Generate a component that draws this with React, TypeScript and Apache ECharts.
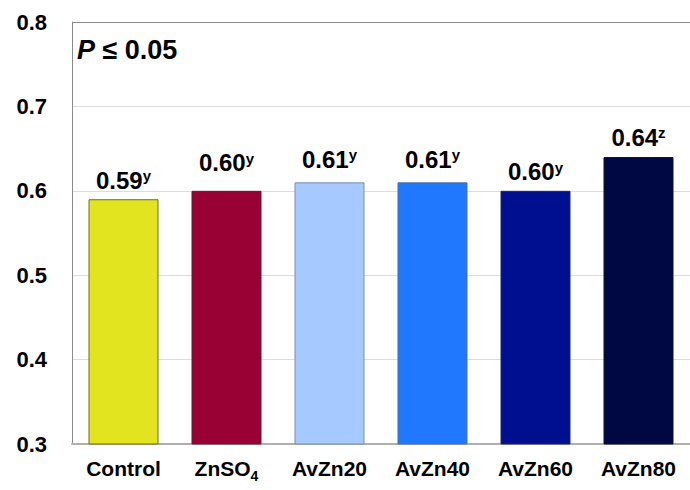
import React, { useEffect, useRef } from "react";
import * as echarts from "echarts";

const categories = ["Control", "ZnSO4", "AvZn20", "AvZn40", "AvZn60", "AvZn80"];
const values = [0.59, 0.6, 0.61, 0.61, 0.6, 0.64];
const letters = ["y", "y", "y", "y", "y", "z"];
const barColors = ["#E2E41F", "#990033", "#A6C9FF", "#1F78FF", "#000F8F", "#000843"];
const borderColors = ["#6E6E1A", "#5A2030", "#7890B0", "#4A6E9E", "#20285A", "#101030"];
const labelDistances = [7, 16, 11, 11, 7, 8];
const yTicks = [0.3, 0.4, 0.5, 0.6, 0.7, 0.8];

const FONT = "'Liberation Sans', Arial, sans-serif";

export default function App() {
  const ref = useRef<HTMLDivElement>(null);
  useEffect(() => {
    if (!ref.current) return;
    const chart = echarts.init(ref.current, null, { renderer: "svg" });
    chart.setOption({
      animation: false,
      grid: { left: 72, top: 22, width: 630, height: 422 },
      xAxis: {
        type: "category",
        data: categories,
        axisLine: { lineStyle: { color: "#B0B0B0", width: 2 } },
        axisTick: { show: false },
        axisLabel: {
          interval: 0,
          hideOverlap: false,
          margin: 14,
          color: "#000",
          fontFamily: FONT,
          fontWeight: "bold",
          fontSize: 21,
          formatter: (v: string) =>
            v === "ZnSO4" ? "{a|ZnSO}{sub|4}" : "{a|" + v + "}",
          rich: {
            a: { fontFamily: FONT, fontWeight: "bold", fontSize: 21, color: "#000" },
            sub: {
              fontFamily: FONT,
              fontWeight: "bold",
              fontSize: 14,
              color: "#000",
              verticalAlign: "bottom",
              padding: [0, 0, -4, 0],
            },
          },
        },
      },
      yAxis: {
        type: "value",
        min: yTicks[0],
        max: yTicks[yTicks.length - 1],
        interval: 0.1,
        axisLine: { show: true, lineStyle: { color: "#8A8A8A", width: 1 } },
        axisTick: { show: false },
        axisLabel: {
          margin: 25,
          color: "#000",
          fontFamily: FONT,
          fontWeight: "bold",
          fontSize: 22,
          formatter: (v: number) => v.toFixed(1),
        },
        splitLine: {
          show: true,
          lineStyle: {
            color: ["#DDDDDD", "#DDDDDD", "#DDDDDD", "#DDDDDD", "#DDDDDD", "#8A8A8A"],
            width: 1,
          },
        },
      },
      graphic: [
        {
          type: "text",
          left: 77,
          top: 36,
          style: {
            text: "{p|P}{t| ≤ 0.05}",
            rich: {
              p: { fontFamily: FONT, fontWeight: "bold", fontStyle: "italic", fontSize: 27, fill: "#000" },
              t: { fontFamily: FONT, fontWeight: "bold", fontSize: 27, fill: "#000" },
            },
          },
        },
      ],
      series: [
        {
          type: "bar",
          barWidth: 70,
          data: values.map((v, i) => ({
            value: v,
            itemStyle: { color: barColors[i], borderColor: borderColors[i], borderWidth: 1 },
            label: {
              show: true,
              position: "top",
              distance: labelDistances[i],
              formatter: "{v|" + v.toFixed(2) + "}{s|" + letters[i] + "}",
              rich: {
                v: { fontFamily: FONT, fontWeight: "bold", fontSize: 24, color: "#000" },
                s: {
                  fontFamily: FONT,
                  fontWeight: "bold",
                  fontSize: 15,
                  color: "#000",
                  verticalAlign: "top",
                  padding: [0, 0, 9, 0],
                },
              },
            },
          })),
        },
      ],
    });
    return () => chart.dispose();
  }, []);
  return <div ref={ref} style={{ width: 690, height: 490, position: "absolute", left: 0, top: 0 }} />;
}
